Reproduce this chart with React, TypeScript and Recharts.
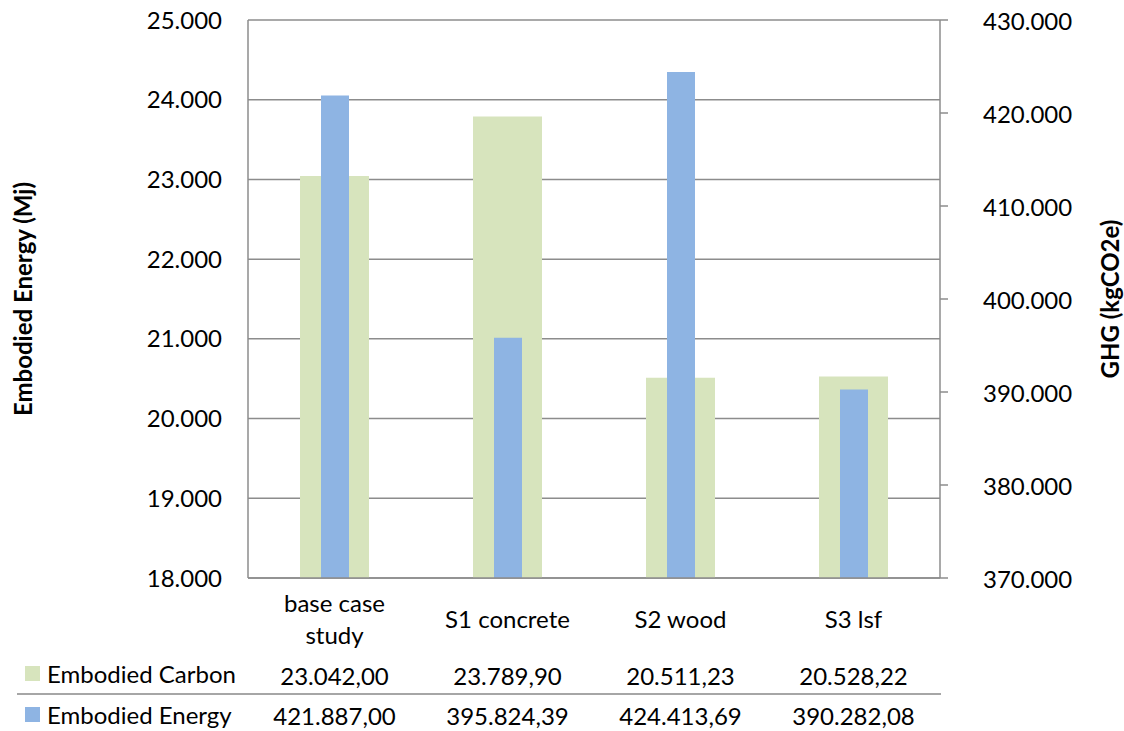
import { Bar, BarChart, CartesianGrid, XAxis, YAxis, Label } from "recharts";

const categories = ["base case study", "S1 concrete", "S2 wood", "S3 lsf"];
// plotted against the left (Mj) axis
const embodiedCarbon = [23042.0, 23789.9, 20511.23, 20528.22];
// plotted against the right (kgCO2e) axis
const embodiedEnergy = [421887.0, 395824.39, 424413.69, 390282.08];

const leftTicks = [18000, 19000, 20000, 21000, 22000, 23000, 24000, 25000];
const rightTicks = [370000, 380000, 390000, 400000, 410000, 420000, 430000];

const seriesNames = ["Embodied Carbon", "Embodied Energy"];

const GREEN = "#d7e4bd";
const BLUE = "#8eb4e3";
const GRID = "#8c8c8c";
const FONT = "Lato, 'Open Sans', sans-serif";
const FONT_SIZE = 24;

const data = categories.map((name, i) => ({
  name,
  carbon: embodiedCarbon[i],
  energy: embodiedEnergy[i],
}));

// 23042 -> "23.042" (dot grouping, no decimals)
const group = (n: number) => {
  const s = Math.round(Math.abs(n)).toString();
  return (n < 0 ? "-" : "") + s.replace(/\B(?=(\d{3})+(?!\d))/g, ".");
};

// table cells: dot grouping, comma decimals
const fmtCell = (n: number) => {
  const [int, dec] = n.toFixed(2).split(".");
  return `${group(Number(int))},${dec}`;
};

const wrap = (s: string, max = 11) => {
  const out: string[] = [];
  let line = "";
  for (const w of s.split(" ")) {
    if (line && (line + " " + w).length > max) {
      out.push(line);
      line = w;
    } else {
      line = line ? line + " " + w : w;
    }
  }
  if (line) out.push(line);
  return out;
};

// category label plus the data-table column under it
function CategoryTick(props: any) {
  const { x, y, payload, index } = props;
  const lines = wrap(String(payload.value));
  const startY = lines.length === 1 ? 38 : 22;
  return (
    <g fontFamily={FONT} fontSize={FONT_SIZE}>
      {lines.map((l, i) => (
        <text key={i} x={x} y={y + startY + i * 32} textAnchor="middle" dominantBaseline="central" fill="#000">
          {l}
        </text>
      ))}
      <text x={x} y={y + 95} textAnchor="middle" dominantBaseline="central" fill="#000">
        {fmtCell(embodiedCarbon[index])}
      </text>
      <text x={x} y={y + 135} textAnchor="middle" dominantBaseline="central" fill="#000">
        {fmtCell(embodiedEnergy[index])}
      </text>
    </g>
  );
}

// right-hand tick: short outward mark plus label
function RightTick(props: any) {
  const { x, y, payload } = props;
  return (
    <g>
      <line x1={x} x2={x + 8} y1={y} y2={y} stroke={GRID} strokeWidth={1.5} />
      <text x={x + 43} y={y} textAnchor="start" dominantBaseline="central" fontFamily={FONT} fontSize={FONT_SIZE} fill="#000">
        {group(payload.value)}
      </text>
    </g>
  );
}

function TableLegend() {
  const colors = [GREEN, BLUE];
  const rowsY = [673, 714];
  return (
    <>
      {seriesNames.map((s, i) => (
        <div
          key={s}
          style={{
            position: "absolute",
            left: 25,
            top: rowsY[i] - 15,
            height: 30,
            display: "flex",
            alignItems: "center",
            fontFamily: FONT,
            fontSize: FONT_SIZE,
            color: "#000",
            whiteSpace: "nowrap",
          }}
        >
          <span style={{ width: 15, height: 15, background: colors[i], marginRight: 7, display: "inline-block" }} />
          {s}
        </div>
      ))}
      <div style={{ position: "absolute", left: 17, top: 693, width: 924, height: 2, background: "#a6a6a6" }} />
    </>
  );
}

export default function App() {
  return (
    <div style={{ position: "absolute", left: 0, top: 0, width: 1124, height: 731, background: "#fff" }}>
      <BarChart width={1124} height={731} data={data} margin={{ top: 20, right: 0, bottom: 0, left: 0 }}>
        <CartesianGrid yAxisId="left" xAxisId="a" vertical={false} stroke={GRID} strokeWidth={1.5} />
        <XAxis
          xAxisId="a"
          dataKey="name"
          height={153}
          axisLine={{ stroke: GRID, strokeWidth: 1.5 }}
          tickLine={false}
          tickSize={0}
          tick={<CategoryTick />}
          interval={0}
        />
        <XAxis xAxisId="b" dataKey="name" hide />
        <YAxis
          yAxisId="left"
          orientation="left"
          width={248}
          domain={[18000, 25000]}
          ticks={leftTicks}
          tickFormatter={group}
          axisLine={{ stroke: GRID, strokeWidth: 1.5 }}
          tickLine={false}
          tickSize={0}
          tickMargin={26}
          tick={{ fontFamily: FONT, fontSize: FONT_SIZE, fill: "#000" }}
        >
          <Label
            value="Embodied Energy (Mj)"
            angle={-90}
            position="insideLeft"
            offset={23}
            style={{ fontFamily: FONT, fontSize: 24, fontWeight: 700, fill: "#000", textAnchor: "middle" }}
          />
        </YAxis>
        <YAxis
          yAxisId="right"
          orientation="right"
          width={184}
          domain={[370000, 430000]}
          ticks={rightTicks}
          axisLine={{ stroke: GRID, strokeWidth: 1.5 }}
          tickLine={false}
          tickSize={0}
          tickMargin={0}
          tick={<RightTick />}
        >
          <Label
            value="GHG (kgCO2e)"
            angle={-90}
            position="insideRight"
            offset={14}
            style={{ fontFamily: FONT, fontSize: 24, fontWeight: 700, fill: "#000", textAnchor: "middle" }}
          />
        </YAxis>
        <Bar xAxisId="a" yAxisId="left" dataKey="carbon" fill={GREEN} barSize={69} isAnimationActive={false} />
        <Bar xAxisId="b" yAxisId="right" dataKey="energy" fill={BLUE} barSize={28} isAnimationActive={false} />
      </BarChart>
      <TableLegend />
    </div>
  );
}
